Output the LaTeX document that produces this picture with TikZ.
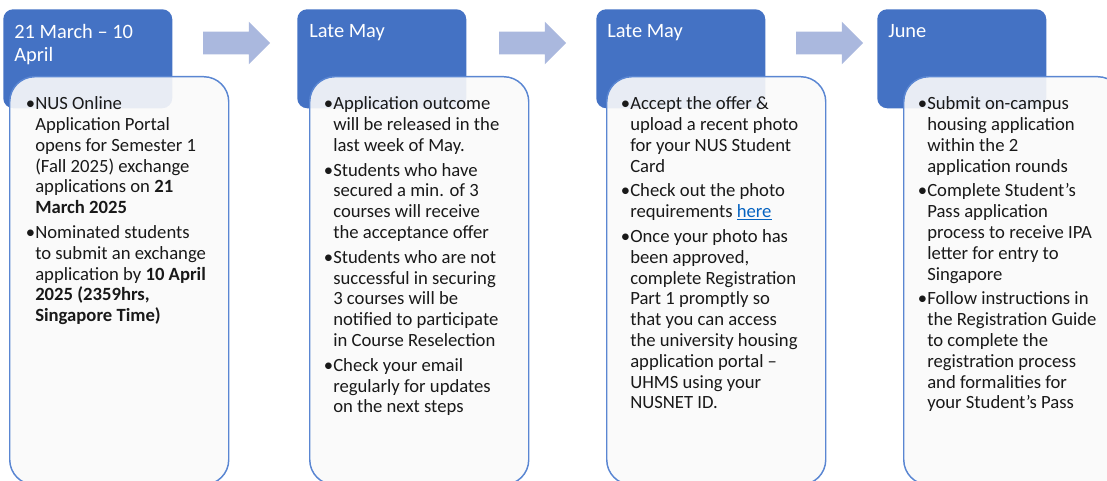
\documentclass[tikz,border=0pt]{standalone}
\usepackage{fontspec}
\setmainfont{Carlito}
\usetikzlibrary{shapes.arrows}
\usepackage{xcolor}
\definecolor{nusblue}{HTML}{4472C4}
\definecolor{nusedge}{HTML}{5A86D2}
\definecolor{nusarrow}{HTML}{AAB8DE}
\definecolor{nuslink}{HTML}{0563C1}
\definecolor{nusbody}{HTML}{FAFAFA}
\newcommand{\bul}{\llap{\textbullet}}

\begin{document}
\begin{tikzpicture}[
    x=0.75pt, y=-0.75pt,
    period/.style={
        rectangle,
        rounded corners=7.5pt,
        fill=nusblue,
        minimum width=126.75pt,
        minimum height=74.25pt,
        inner sep=0pt,
        anchor=north west
    },
    periodtext/.style={
        anchor=north west,
        inner sep=0pt,
        align=left,
        text=white,
        font=\fontsize{15.3}{17.5}\selectfont
    },
    card/.style={
        rectangle,
        rounded corners=18.75pt,
        draw=nusedge,
        line width=1.1pt,
        fill=nusbody,
        fill opacity=0.9,
        minimum width=164.25pt,
        minimum height=306pt,
        inner sep=0pt,
        anchor=north west
    },
    cardtext/.style={
        anchor=north west,
        inner sep=0pt,
        align=left,
        text=black!90,
        font=\fontsize{14}{15.6}\selectfont
    },
    flow/.style={
        single arrow,
        fill=nusarrow,
        minimum height=50.25pt,
        minimum width=31.5pt,
        single arrow head extend=7.5pt,
        single arrow head indent=0pt,
        inner xsep=0pt,
        inner ysep=8.25pt
    }
]
\path[use as bounding box, clip] (0,0) rectangle (1107,481);

% Periods
\node[period] (periodA) at (3,9) {};
\node[period] (periodB) at (297,9) {};
\node[period] (periodC) at (596,9) {};
\node[period] (periodD) at (877,9) {};

% Arrows between periods
\node[flow] (flowAB) at (231,43) {};
\node[flow] (flowBC) at (527,43) {};
\node[flow] (flowCD) at (824,43) {};

% Cards
\node[card] (cardA) at (9,76) {};
\node[card] (cardB) at (309,76) {};
\node[card] (cardC) at (606,76) {};
\node[card] (cardD) at (903,76) {};

% Period labels
\node[periodtext] (periodAtext) at (14,24) {21 March -- 10\\April};
\node[periodtext] (periodBtext) at (309,24) {Late May};
\node[periodtext] (periodCtext) at (607,24) {Late May};
\node[periodtext] (periodDtext) at (888,24) {June};

% Card texts
\node[cardtext] (cardAtext) at (35,96.5) {%
\bul NUS Online\\
Application Portal\\
opens for Semester 1\\
(Fall 2025) exchange\\
applications on \textbf{21}\\
\textbf{March 2025}\\[3pt]
\bul Nominated students\\
to submit an exchange\\
application by \textbf{10 April}\\
\textbf{2025 (2359hrs,}\\
\textbf{Singapore Time)}};

\node[cardtext] (cardBtext) at (333,96.5) {%
\bul Application outcome\\
will be released in the\\
last week of May.\\[3pt]
\bul Students who have\\
secured a min. of 3\\
courses will receive\\
the acceptance offer\\[3pt]
\bul Students who are not\\
successful in securing\\
3 courses will be\\
notified to participate\\
in Course Reselection\\[3pt]
\bul Check your email\\
regularly for updates\\
on the next steps};

\node[cardtext] (cardCtext) at (630,96.5) {%
\bul Accept the offer \&\\
upload a recent photo\\
for your NUS Student\\
Card\\[3pt]
\bul Check out the photo\\
requirements {\color{nuslink}\underline{here}}\\[3pt]
\bul Once your photo has\\
been approved,\\
complete Registration\\
Part 1 promptly so\\
that you can access\\
the university housing\\
application portal --\\
UHMS using your\\
NUSNET ID.};

\node[cardtext] (cardDtext) at (927,96.5) {%
\bul Submit on-campus\\
housing application\\
within the 2\\
application rounds\\[3pt]
\bul Complete Student’s\\
Pass application\\
process to receive IPA\\
letter for entry to\\
Singapore\\[3pt]
\bul Follow instructions in\\
the Registration Guide\\
to complete the\\
registration process\\
and formalities for\\
your Student’s Pass};

\end{tikzpicture}
\end{document}
